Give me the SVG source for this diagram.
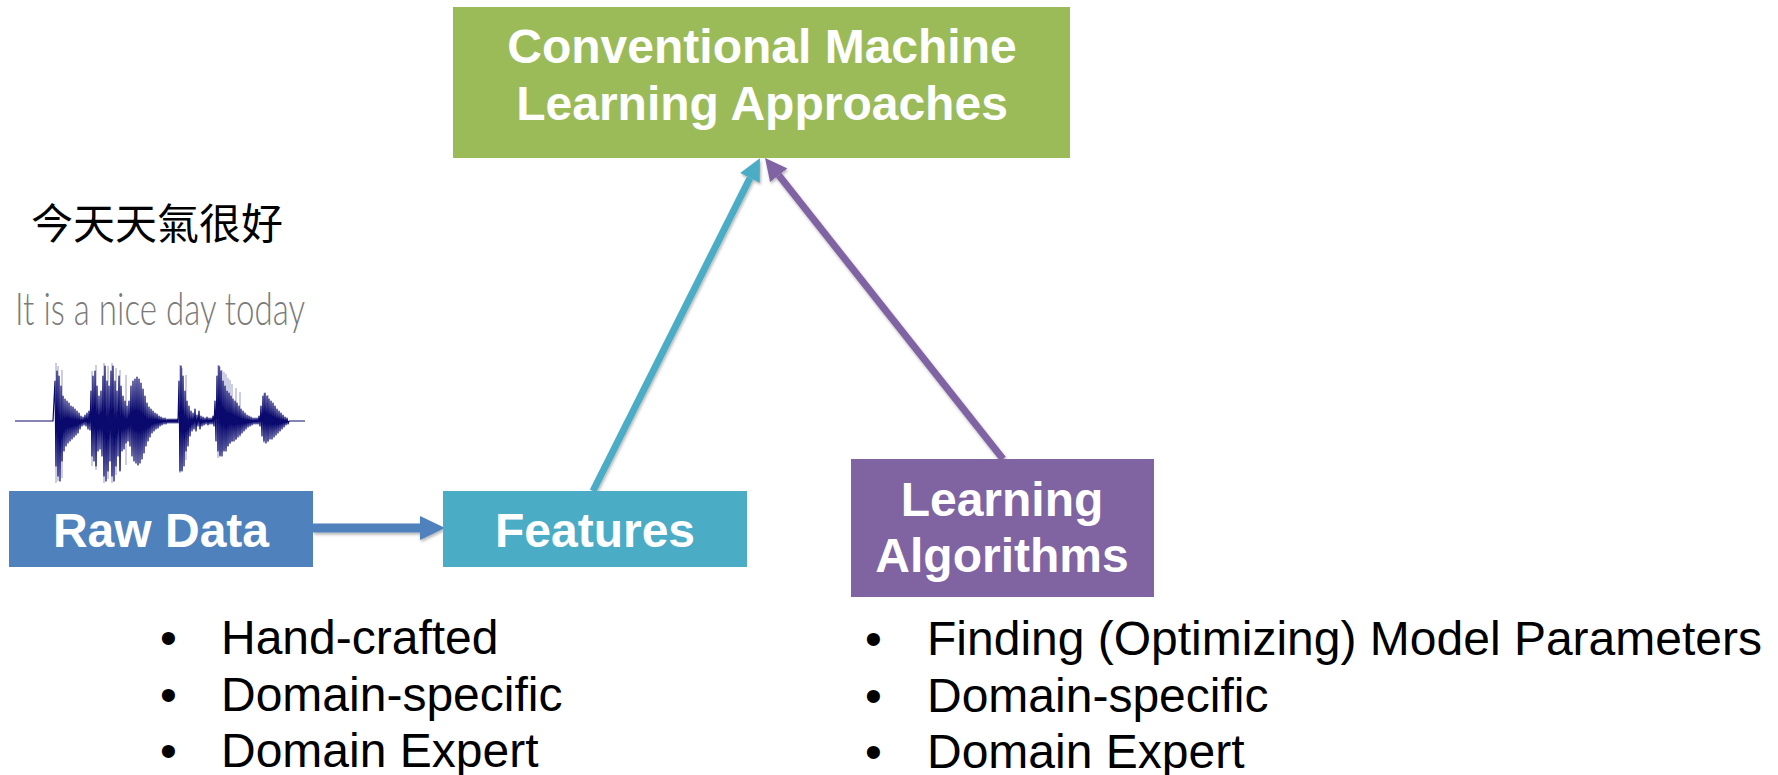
<svg xmlns="http://www.w3.org/2000/svg" width="1778" height="775" viewBox="0 0 1778 775">
<style>
.box-title{font-family:"Liberation Sans",Arial,sans-serif;font-weight:bold;font-size:48px;fill:#ffffff;text-anchor:middle}
.bullet{font-family:"Liberation Sans",Arial,sans-serif;font-size:48px;fill:#000000}
.conn{fill:none;stroke-linecap:butt}
</style>
<defs>
<filter id="sh" filterUnits="userSpaceOnUse" x="0" y="0" width="1778" height="775">
<feDropShadow dx="1" dy="2" stdDeviation="1.5" flood-color="#000" flood-opacity="0.3"/>
</filter>
<marker id="ahBlue" markerUnits="userSpaceOnUse" viewBox="0 0 25 24" markerWidth="25" markerHeight="24" refX="0" refY="12" orient="auto"><path d="M0 0 L25 12 L0 24 z" fill="#4f81bd"/></marker>
<marker id="ahCyan" markerUnits="userSpaceOnUse" viewBox="0 0 22 22" markerWidth="22" markerHeight="22" refX="0" refY="11" orient="auto"><path d="M0 0 L22 11 L0 22 z" fill="#4bacc6"/></marker>
<marker id="ahPurple" markerUnits="userSpaceOnUse" viewBox="0 0 22 22" markerWidth="22" markerHeight="22" refX="0" refY="11" orient="auto"><path d="M0 0 L22 11 L0 22 z" fill="#8064a2"/></marker>
</defs>
<rect width="1778" height="775" fill="#ffffff"/>

<g id="raw-samples">
<text x="31" y="239" font-family="'Noto Sans CJK TC','Noto Sans CJK SC',sans-serif" font-size="42" fill="#000">今天天氣很好</text>
<text x="15" y="325" font-family="Lato,'DejaVu Sans',sans-serif" font-weight="300" font-size="46" fill="#7a7a7a" textLength="290" lengthAdjust="spacingAndGlyphs">It is a nice day today</text>
<path d="M56 363 V483 M58 366 V481 M62 370 V478 M92 371 V466 M96 365 V470 M104 363 V483 M108 366 V479 M112 363 V483 M116 368 V475 M120 370 V470 M126 375 V465 M180 365 V473 M182 368 V470 M186 375 V460 M218 365 V458 M220 367 V455 M222 370 V452 M224 372 V450 M226 374 V448 M228 378 V446 M230 380 V444 M232 384 V442 M236 388 V440 M240 392 V437 M264 393 V443 M268 395 V442" stroke="#9a9acc" stroke-width="1" fill="none"/>
<path d="M15 421 L53 421 L55 381 L56 466 L57 371 L58 476 L59 376 L60 481 L61 386 L62 461 L63 396 L64 451 L65 399 L66 446 L67 401 L68 443 L69 403 L70 441 L71 406 L72 439 L73 407 L74 437 L75 409 L76 435 L77 411 L78 433 L79 413 L80 429 L81 416 L82 426 L83 417 L84 425 L85 415 L86 426 L87 413 L88 429 L89 411 L90 430 L91 391 L92 456 L93 376 L94 461 L95 371 L96 466 L97 386 L98 451 L99 396 L100 449 L101 391 L102 456 L103 376 L104 476 L105 366 L106 481 L107 381 L108 471 L109 386 L110 461 L111 371 L112 476 L113 366 L114 481 L115 381 L116 466 L117 391 L118 456 L119 376 L120 471 L121 386 L122 451 L123 396 L124 449 L125 401 L126 443 L127 406 L128 441 L129 401 L130 446 L131 386 L132 456 L133 381 L134 461 L135 379 L136 463 L137 377 L138 465 L139 379 L140 463 L141 383 L142 459 L143 389 L144 453 L145 396 L146 446 L147 403 L148 441 L149 407 L150 437 L151 409 L152 433 L153 411 L154 431 L155 413 L156 429 L157 414 L158 428 L159 416 L160 426 L161 417 L162 425 L163 418 L164 424 L165 418 L166 424 L167 419 L168 423 L169 419 L170 423 L171 419 L172 423 L173 419 L174 423 L175 419 L176 423 L177 419 L178 423 L179 381 L180 471 L181 366 L182 471 L183 376 L184 466 L185 391 L186 451 L187 401 L188 446 L189 406 L190 436 L191 411 L192 431 L193 413 L194 429 L195 409 L196 431 L197 415 L198 426 L199 411 L200 429 L201 416 L202 426 L203 417 L204 425 L205 418 L206 424 L207 417 L208 425 L209 418 L210 424 L211 418 L212 424 L213 416 L214 426 L215 401 L216 441 L217 376 L218 451 L219 366 L220 456 L221 371 L222 456 L223 381 L224 451 L225 386 L226 451 L227 391 L228 446 L229 393 L230 443 L231 396 L232 441 L233 399 L234 441 L235 401 L236 439 L237 403 L238 437 L239 406 L240 435 L241 409 L242 433 L243 411 L244 431 L245 413 L246 429 L247 415 L248 427 L249 416 L250 426 L251 417 L252 425 L253 418 L254 424 L255 418 L256 424 L257 418 L258 424 L259 416 L260 426 L261 406 L262 436 L263 396 L264 441 L265 393 L266 443 L267 396 L268 441 L269 399 L270 439 L271 401 L272 439 L273 403 L274 437 L275 406 L276 435 L277 409 L278 433 L279 411 L280 431 L281 413 L282 429 L283 415 L284 427 L285 417 L286 425 L287 418 L288 424 L289 421 L305 421" stroke="#0a0a6e" stroke-width="1.2" fill="none" stroke-linejoin="round"/>
</g>

<g id="connectors">
<line class="conn" x1="313" y1="528" x2="420" y2="528" stroke="#4f81bd" stroke-width="9" marker-end="url(#ahBlue)" filter="url(#sh)"/>
<line class="conn" x1="593" y1="491" x2="750" y2="178" stroke="#4bacc6" stroke-width="7" marker-end="url(#ahCyan)" filter="url(#sh)"/>
<line class="conn" x1="1003" y1="459" x2="778.7" y2="175.2" stroke="#8064a2" stroke-width="7" marker-end="url(#ahPurple)" filter="url(#sh)"/>
</g>

<g id="node-conventional">
<rect x="453" y="7" width="617" height="151" fill="#9bbb59"/>
<text class="box-title" x="762" y="63">Conventional Machine</text>
<text class="box-title" x="762" y="120">Learning Approaches</text>
</g>

<g id="node-raw-data">
<rect x="9" y="491" width="304" height="76" fill="#4f81bd"/>
<text class="box-title" x="161" y="547">Raw Data</text>
</g>

<g id="node-features">
<rect x="443" y="491" width="304" height="76" fill="#4bacc6"/>
<text class="box-title" x="595" y="547">Features</text>
</g>

<g id="node-learning-algorithms">
<rect x="851" y="459" width="303" height="138" fill="#8064a2"/>
<text class="box-title" x="1002" y="516">Learning</text>
<text class="box-title" x="1002" y="572">Algorithms</text>
</g>

<g id="features-bullets">
<text class="bullet" x="160" y="654">•</text><text class="bullet" x="221" y="654">Hand-crafted</text>
<text class="bullet" x="160" y="711">•</text><text class="bullet" x="221" y="711">Domain-specific</text>
<text class="bullet" x="160" y="767">•</text><text class="bullet" x="221" y="767">Domain Expert</text>
</g>

<g id="learning-bullets">
<text class="bullet" x="865" y="655">•</text><text class="bullet" x="927" y="655">Finding (Optimizing) Model Parameters</text>
<text class="bullet" x="865" y="712">•</text><text class="bullet" x="927" y="712">Domain-specific</text>
<text class="bullet" x="865" y="768">•</text><text class="bullet" x="927" y="768">Domain Expert</text>
</g>
</svg>
